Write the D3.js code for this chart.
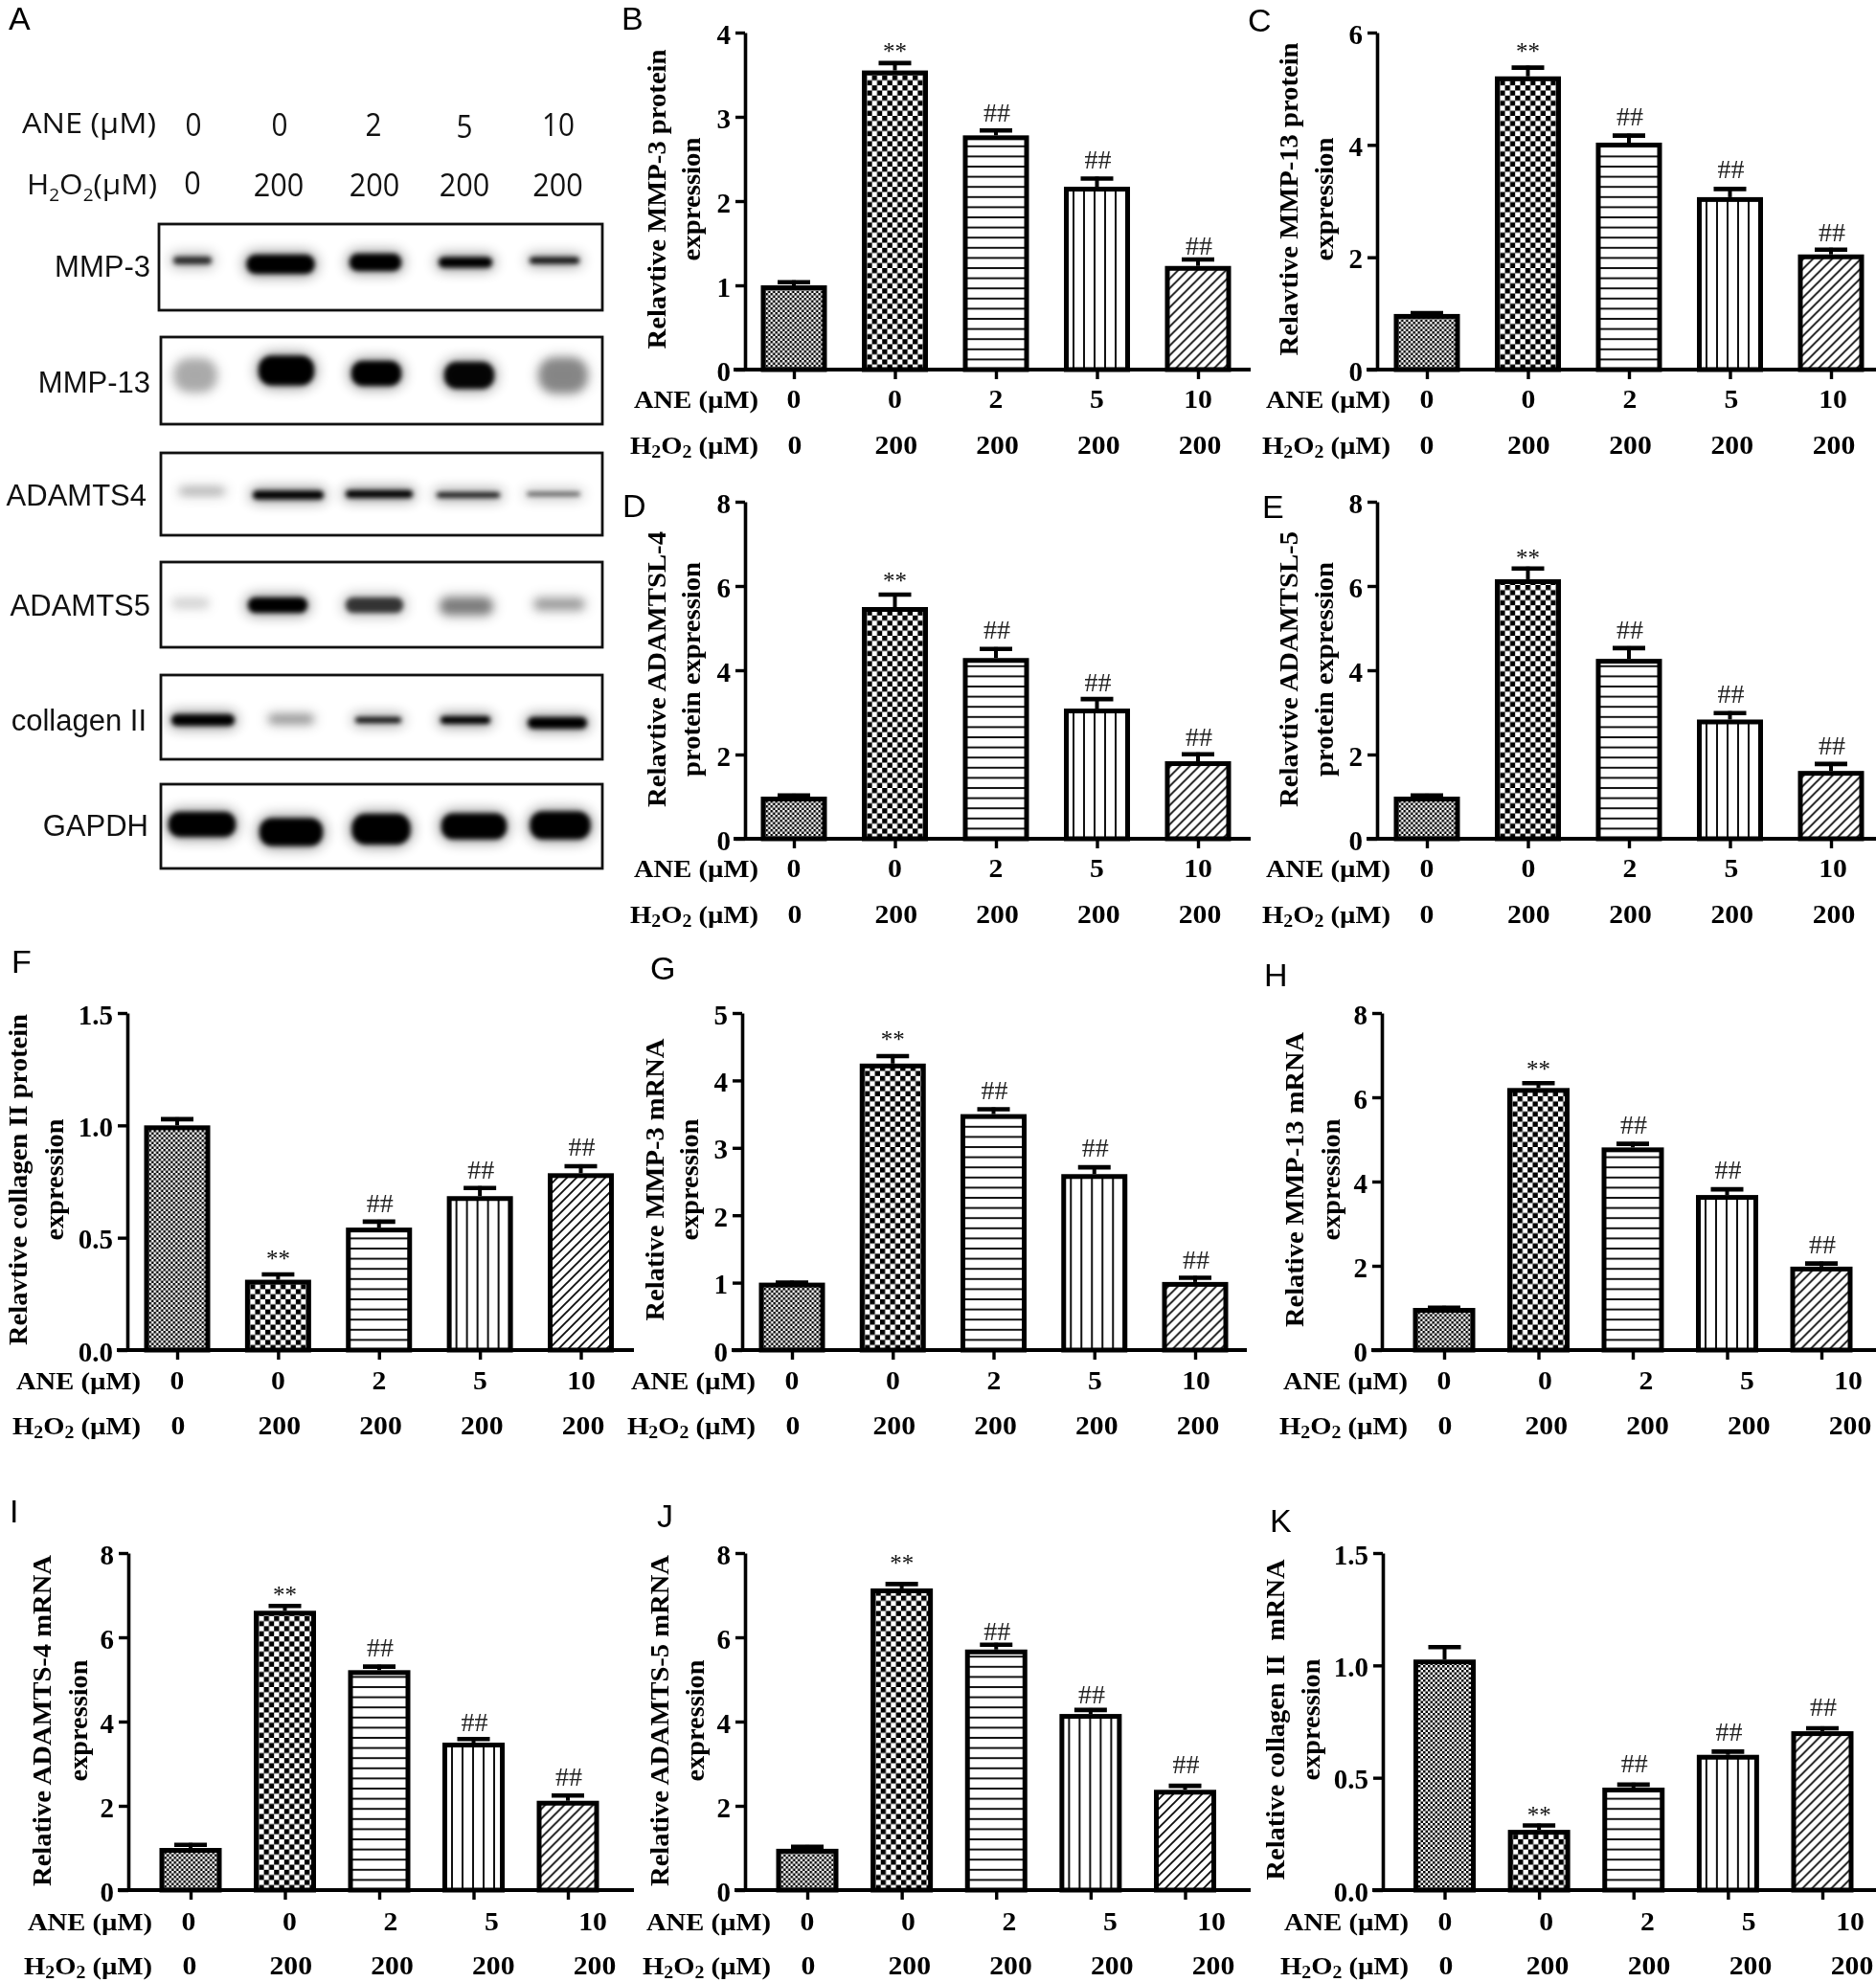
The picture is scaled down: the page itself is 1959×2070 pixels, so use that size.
<!DOCTYPE html>
<html><head><meta charset="utf-8">
<script src="https://cdn.jsdelivr.net/npm/d3@7/dist/d3.min.js"></script>
<style>html,body{margin:0;padding:0;background:#fff}svg{display:block;filter:blur(0.55px)}</style>
</head><body><div id="chart"></div>
<script>
// ---------- data ----------
const groups = ["g1","g2","g3","g4","g5"];
const aneLabels = ["0","0","2","5","10"];
const h2o2Labels = ["0","200","200","200","200"];
const sigMarks = ["","**","##","##","##"];

const valuesB = [1.00,3.55,2.78,2.17,1.23];
const errorsB = [0.06,0.11,0.08,0.12,0.10];
const valuesC = [0.99,5.22,4.04,3.07,2.05];
const errorsC = [0.05,0.19,0.16,0.18,0.12];
const valuesD = [1.00,5.50,4.29,3.09,1.84];
const errorsD = [0.07,0.34,0.26,0.27,0.21];
const valuesE = [1.00,6.16,4.27,2.83,1.61];
const errorsE = [0.07,0.30,0.30,0.20,0.21];
const valuesF = [1.00,0.313,0.545,0.685,0.787];
const errorsF = [0.036,0.032,0.035,0.045,0.04];
const valuesG = [1.00,4.25,3.50,2.61,1.01];
const errorsG = [0.03,0.14,0.10,0.13,0.09];
const valuesH = [1.00,6.22,4.81,3.68,1.98];
const errorsH = [0.05,0.16,0.13,0.18,0.12];
const valuesI = [1.00,6.63,5.22,3.50,2.12];
const errorsI = [0.12,0.16,0.13,0.13,0.17];
const valuesJ = [0.98,7.16,5.71,4.18,2.38];
const errorsJ = [0.09,0.15,0.16,0.14,0.14];
const valuesK = [1.026,0.268,0.456,0.602,0.707];
const errorsK = [0.064,0.028,0.022,0.023,0.022];

const blotNames = ["MMP-3","MMP-13","ADAMTS4","ADAMTS5","collagen II","GAPDH"];
const blotIntensity = [
  [0.78,1,1,1,0.9],
  [0.24,1,1,0.97,0.36],
  [0.30,1,1,0.97,0.62],
  [0.13,1,0.72,0.40,0.30],
  [1,0.34,0.92,1,1],
  [1,1,1,1,1]
];

// ---------- layout ----------
const serif = "'Liberation Serif','Times New Roman',serif";
const sans = "'Liberation Sans',Arial,sans-serif";
const panels = [
 {id:"B",v:valuesB,e:errorsB,max:4,step:1,fmt:"d",top:34,base:386,ax:778,hx:[766,1306],c:[829,1251],bw:69,lab:[829,1251],labH:[830,1253],yA:417,yH:465,rt:792,lx:[649,31],
  t:["Relavtive MMP-3 protein","expression"],tx:[686,722],tc:208,tl:[313,129],so:[13,16,17,12]},
 {id:"C",v:valuesC,e:errorsC,max:6,step:2,fmt:"d",top:34,base:386,ax:1438,hx:[1427,1959],c:[1490,1912],bw:69,lab:[1490,1914],labH:[1490,1915],yA:417,yH:465,rt:1452,lx:[1303,33],
  t:["Relavtive MMP-13 protein","expression"],tx:[1346,1383],tc:208,tl:[327,129],so:[18,18,18,16]},
 {id:"D",v:valuesD,e:errorsD,max:8,step:2,fmt:"d",top:524,base:876,ax:778,hx:[766,1306],c:[829,1251],bw:69,lab:[829,1251],labH:[830,1253],yA:907,yH:955,rt:792,lx:[650,540],
  t:["Relavtive ADAMTSL-4","protein expression"],tx:[686,722],tc:699,tl:[288,224],so:[15,18,15,16]},
 {id:"E",v:valuesE,e:errorsE,max:8,step:2,fmt:"d",top:524,base:876,ax:1438,hx:[1427,1959],c:[1490,1912],bw:69,lab:[1490,1914],labH:[1490,1915],yA:907,yH:955,rt:1452,lx:[1318,541],
  t:["Relavtive ADAMTSL-5","protein expression"],tx:[1346,1383],tc:699,tl:[288,224],so:[12,17,18,17]},
 {id:"F",v:valuesF,e:errorsF,max:1.5,step:0.5,fmt:".1f",top:1058,base:1410,ax:133,hx:[122,662],c:[185,606.5],bw:69,lab:[185,607],labH:[186,609],yA:1442,yH:1489,rt:147,lx:[12,1016],
  t:["Relavtive collagen II protein","expression"],tx:[19,57],tc:1232,tl:[346,127],so:[17,17,17,18]},
 {id:"G",v:valuesG,e:errorsG,max:5,step:1,fmt:"d",top:1058,base:1410,ax:775,hx:[764,1302],c:[827,1248],bw:69,lab:[827,1249],labH:[828,1251],yA:1442,yH:1489,rt:789,lx:[679,1023],
  t:["Relative MMP-3 mRNA","expression"],tx:[684,720],tc:1232,tl:[295,127],so:[18,18,18,17]},
 {id:"H",v:valuesH,e:errorsH,max:8,step:2,fmt:"d",top:1058,base:1410,ax:1443,hx:[1432,1959],c:[1508,1902],bw:65,lab:[1508,1930],labH:[1509,1932],yA:1442,yH:1489,rt:1470,lx:[1320,1030],
  t:["Relative MMP-13 mRNA","expression"],tx:[1352,1390],tc:1232,tl:[308,127],so:[15,18,18,18]},
 {id:"I",v:valuesI,e:errorsI,max:8,step:2,fmt:"d",top:1622,base:1974,ax:134,hx:[123,662],c:[199,593],bw:65,lab:[197,619],labH:[198,621],yA:2007,yH:2053,rt:159,lx:[10,1590],
  t:["Relative ADAMTS-4 mRNA","expression"],tx:[44,82],tc:1797,tl:[346,127],so:[12,18,15,17]},
 {id:"J",v:valuesJ,e:errorsJ,max:8,step:2,fmt:"d",top:1622,base:1974,ax:778,hx:[767,1306],c:[843,1237.5],bw:65,lab:[843,1265],labH:[844,1267],yA:2007,yH:2053,rt:805,lx:[686,1595],
  t:["Relative ADAMTS-5 mRNA","expression"],tx:[689,726],tc:1797,tl:[346,127],so:[22,12,14,20]},
 {id:"K",v:valuesK,e:errorsK,max:1.5,step:0.5,fmt:".1f",top:1622,base:1974,ax:1444,hx:[1433,1959],c:[1508.5,1903],bw:65,lab:[1509,1932],labH:[1510,1934],yA:2007,yH:2053,rt:1471,lx:[1326,1600],
  t:["Relative collagen II\u00A0\u00A0mRNA","expression"],tx:[1332,1369],tc:1796,tl:[335,127],so:[12,20,18,20]}
];
const blotLayout = [
 {box:[166,234,629,324],lab:[157,278],cx:[201,293,392,486,579],cy:[272,276,274,274,272],w:[46,77,60,62,58],h:[10,22,20,13,9]},
 {box:[168,352,629,443],lab:[157,399],cx:[204,299,393,490,588],cy:[392,387,390,392,392],w:[50,64,58,58,56],h:[36,33,28,30,38]},
 {box:[168,473,629,559],lab:[153,517],cx:[211,301,396,489,578],cy:[513,517,516,517,516],w:[52,80,76,72,62],h:[7,11,10,7,6]},
 {box:[168,587,629,676],lab:[157,632],cx:[199,290,391,487,584],cy:[630,632,632,633,631],w:[44,68,66,60,58],h:[11,18,18,19,13]},
 {box:[168,705,629,793],lab:[153,752],cx:[212,304,395,486,582],cy:[752,751,752,752,755],w:[72,52,54,58,68],h:[14,10,8,10,14]},
 {box:[168,819,629,907],lab:[155,862],cx:[211,304,398,495,585],cy:[861,869,866,863,862],w:[76,72,67,74,69],h:[28,31,34,29,31]}
];

const svg = d3.select("#chart").append("svg").attr("width",1959).attr("height",2070);
svg.append("rect").attr("width",1959).attr("height",2070).attr("fill","#fff");
const defs = svg.append("defs");

// fill patterns
function checker(id,c){
  const p=defs.append("pattern").attr("id",id).attr("patternUnits","userSpaceOnUse")
    .attr("width",2*c).attr("height",2*c);
  p.append("rect").attr("width",2*c).attr("height",2*c).attr("fill","#fff");
  p.append("rect").attr("width",c).attr("height",c).attr("fill","#000");
  p.append("rect").attr("x",c).attr("y",c).attr("width",c).attr("height",c).attr("fill","#000");
}
checker("fine",2.5); checker("coarse",5.3);
(function(){
  let p=defs.append("pattern").attr("id","hor").attr("patternUnits","userSpaceOnUse").attr("width",8).attr("height",10.6);
  p.append("rect").attr("width",8).attr("height",10.6).attr("fill","#fff");
  p.append("rect").attr("y",-1).attr("width",8).attr("height",2).attr("fill","#111");
  p.append("rect").attr("y",9.6).attr("width",8).attr("height",2).attr("fill","#111");
  p=defs.append("pattern").attr("id","ver").attr("patternUnits","userSpaceOnUse").attr("width",11).attr("height",8);
  p.append("rect").attr("width",11).attr("height",8).attr("fill","#fff");
  p.append("rect").attr("x",9).attr("width",2).attr("height",8).attr("fill","#111");
  p=defs.append("pattern").attr("id","dia").attr("patternUnits","userSpaceOnUse").attr("width",10).attr("height",10);
  p.append("rect").attr("width",10).attr("height",10).attr("fill","#fff");
  p.append("path").attr("d","M-2,12L12,-2M-12,12L12,-12M-2,22L22,-2").attr("stroke","#111").attr("stroke-width",1.9);
})();
const fills=["url(#fine)","url(#coarse)","url(#hor)","url(#ver)","url(#dia)"];

// blurs for blot bands
[["b1",2.4],["b2",4],["b3",7]].forEach(([id,s])=>{
  defs.append("filter").attr("id",id).attr("x","-40%").attr("y","-150%").attr("width","180%").attr("height","400%")
    .append("feGaussianBlur").attr("stdDeviation",s);
});

const SX=1.1;
function serifText(g,x,y,str,o={}){
  return g.append("text")
    .attr("transform",`translate(${x},${y}) scale(${o.sx||SX},1)`)
    .attr("font-family",serif).attr("font-weight",o.weight||"bold")
    .attr("font-size",o.size||26).attr("text-anchor",o.anchor||"middle")
    .attr("fill",o.fill||"#000").text(str);
}
function rowLabelH(g,x,y){
  const t=g.append("text").attr("transform",`translate(${x},${y}) scale(${SX},1)`)
    .attr("font-family",serif).attr("font-weight","bold").attr("font-size",26).attr("text-anchor","end");
  t.append("tspan").text("H");
  t.append("tspan").attr("font-size",18).attr("dy",4).text("2");
  t.append("tspan").attr("dy",-4).text("O");
  t.append("tspan").attr("font-size",18).attr("dy",4).text("2");
  t.append("tspan").attr("dy",-4).text(" (\u00B5M)");
}

// bar panels
panels.forEach(P=>{
  const gOuter=svg.append("g");
  const x=d3.scalePoint().domain(groups).range(P.c);
  const xA=d3.scalePoint().domain(groups).range(P.lab);
  const xH=d3.scalePoint().domain(groups).range(P.labH);
  const y=d3.scaleLinear().domain([0,P.max]).range([0,P.top-P.base]);
  const g=gOuter.append("g").attr("transform",`translate(0,${P.base})`);
  const tickVals=d3.range(0,P.max+1e-6,P.step);
  const sw=5, bw=P.bw;

  // bars
  const bars=g.selectAll("g.bar").data(groups).join("g").attr("class","bar")
    .attr("transform",d=>`translate(${x(d)-bw/2},0)`);
  bars.append("rect")
    .attr("x",sw/2).attr("width",bw-sw)
    .attr("y",(d,i)=>y(P.v[i])+sw/2)
    .attr("height",(d,i)=>y(0)-y(P.v[i])-sw/2)
    .attr("fill",(d,i)=>fills[i]).attr("stroke","#000").attr("stroke-width",sw);

  // error bars
  const eb=g.selectAll("g.err").data(groups).join("g").attr("class","err")
    .attr("transform",d=>`translate(${x(d)},0)`);
  eb.append("line").attr("y1",(d,i)=>y(P.v[i])).attr("y2",(d,i)=>y(P.v[i]+P.e[i]))
    .attr("stroke","#000").attr("stroke-width",4);
  eb.append("line").attr("x1",-17).attr("x2",17)
    .attr("y1",(d,i)=>y(P.v[i]+P.e[i])+2).attr("y2",(d,i)=>y(P.v[i]+P.e[i])+2)
    .attr("stroke","#000").attr("stroke-width",4.6);

  // significance marks
  groups.forEach((d,i)=>{
    if(!sigMarks[i]) return;
    const cap=y(P.v[i]+P.e[i]);
    const off=P.so[i-1];
    const star=sigMarks[i]==="**";
    g.append("text").attr("x",x(d)+(star?0:1)).attr("y",cap-off+(star?11:9))
      .attr("font-family",serif).attr("font-size",star?25:28).attr("text-anchor","middle")
      .attr("fill",star?"#111":"#222").text(sigMarks[i]);
  });

  // axes
  const ay=d3.axisLeft(y).tickValues(tickVals).tickSizeInner(10).tickSizeOuter(0).tickPadding(5)
    .tickFormat(d3.format(P.fmt));
  const gy=g.append("g").attr("transform",`translate(${P.ax},0)`).call(ay);
  gy.select(".domain").attr("stroke","#000").attr("stroke-width",3.6);
  gy.selectAll(".tick line").attr("stroke","#000").attr("stroke-width",3.4);
  gy.selectAll(".tick text").attr("font-family",serif).attr("font-weight","bold")
    .attr("font-size",29).attr("fill","#000").attr("dy","0.38em");

  const ax=d3.axisBottom(x).tickSizeInner(10).tickSizeOuter(0).tickFormat("");
  const gx=g.append("g").call(ax);
  gx.select(".domain").remove();
  gx.selectAll(".tick line").attr("stroke","#000").attr("stroke-width",3.4);
  g.append("line").attr("x1",P.hx[0]).attr("x2",P.hx[1]).attr("y1",0).attr("y2",0)
    .attr("stroke","#000").attr("stroke-width",3.8);

  // row labels
  serifText(gOuter,P.rt,P.yA+9,"ANE (\u00B5M)",{anchor:"end"});
  rowLabelH(gOuter,P.rt,P.yH+9);
  groups.forEach((d,i)=>{
    serifText(gOuter,xA(d),P.yA+9,aneLabels[i],{size:27});
    serifText(gOuter,xH(d),P.yH+9,h2o2Labels[i],{size:27});
  });

  // y titles
  P.t.forEach((s,i)=>{
    gOuter.append("text")
      .attr("transform",`translate(${P.tx[i]+9},${P.tc}) rotate(-90)`)
      .attr("font-family",serif).attr("font-weight","bold").attr("font-size",28)
      .attr("text-anchor","middle").attr("textLength",P.tl[i]).attr("lengthAdjust","spacingAndGlyphs")
      .attr("fill","#000").text(s);
  });

  // panel letter
  svg.append("text").attr("x",P.lx[0]).attr("y",P.lx[1]).attr("font-family",sans)
    .attr("font-size",34).attr("fill","#000").text(P.id);
});

// panel A : blots
const gA=svg.append("g");
gA.append("text").attr("x",9).attr("y",31).attr("font-family",sans).attr("font-size",34).text("A");
const lanes=d3.range(5);
blotLayout.forEach((L,r)=>{
  const [x0,y0,x1,y1]=L.box;
  const clipId="clip"+r;
  defs.append("clipPath").attr("id",clipId).append("rect").attr("x",x0).attr("y",y0).attr("width",x1-x0).attr("height",y1-y0);
  const gb=gA.append("g").attr("clip-path",`url(#${clipId})`);
  lanes.forEach(i=>{
    const o=blotIntensity[r][i], w=L.w[i], h=L.h[i], cx=L.cx[i], cy=L.cy[i];
    const core=o>0.6;
    gb.append("rect").attr("x",cx-w/2).attr("y",cy-h/2-2).attr("width",w).attr("height",h+4).attr("rx",Math.min(w,h+4)/2)
      .attr("fill","#000").attr("opacity",core?0.42*o:0.6*o).attr("filter","url(#b3)");
    gb.append("rect").attr("x",cx-w/2+3).attr("y",cy-h/2+1).attr("width",w-6).attr("height",Math.max(h-2,3)).attr("rx",Math.min(w,h)/2.4)
      .attr("fill","#000").attr("opacity",core?o:o*0.9).attr("filter",core?"url(#b1)":"url(#b2)");
  });
  gA.append("rect").attr("x",x0).attr("y",y0).attr("width",x1-x0).attr("height",y1-y0)
    .attr("fill","none").attr("stroke","#111").attr("stroke-width",2.8);
  gA.append("text").attr("x",L.lab[0]).attr("y",L.lab[1]+11).attr("font-family",sans).attr("font-size",31)
    .attr("text-anchor","end").attr("fill","#111").text(blotNames[r]);
});
// panel A column header
const topSans="'Open Sans','Noto Sans',sans-serif";
const colAne=[202,292,390,485,583], colHp=[201,291,391,485,582.5];
gA.append("text").attr("x",23).attr("y",139).attr("font-family",topSans).attr("font-size",30)
  .attr("textLength",140).attr("lengthAdjust","spacingAndGlyphs").attr("fill","#111").text("ANE (\u00B5M)");
const hT=gA.append("text").attr("x",28).attr("y",203).attr("font-family",topSans).attr("font-size",30).attr("fill","#111");
hT.append("tspan").text("H");
hT.append("tspan").attr("font-size",18).attr("dy",7).text("2");
hT.append("tspan").attr("dy",-7).text("O");
hT.append("tspan").attr("font-size",18).attr("dy",7).text("2");
hT.append("tspan").attr("dy",-7).text("(\u00B5M)");
hT.attr("textLength",136).attr("lengthAdjust","spacingAndGlyphs");
aneLabels.forEach((s,i)=>{
  gA.append("text").attr("x",colAne[i]).attr("y",[142,142,142,144,142][i]).attr("font-family",topSans)
    .attr("font-size",33).attr("text-anchor","middle").attr("textLength",s.length*17).attr("lengthAdjust","spacingAndGlyphs").attr("fill","#111").text(s);
});
h2o2Labels.forEach((s,i)=>{
  gA.append("text").attr("x",colHp[i]).attr("y",[203,205,205,205,205][i]).attr("font-family",topSans)
    .attr("font-size",33).attr("text-anchor","middle").attr("textLength",s.length*17.5).attr("lengthAdjust","spacingAndGlyphs").attr("fill","#111").text(s);
});
</script></body></html>
